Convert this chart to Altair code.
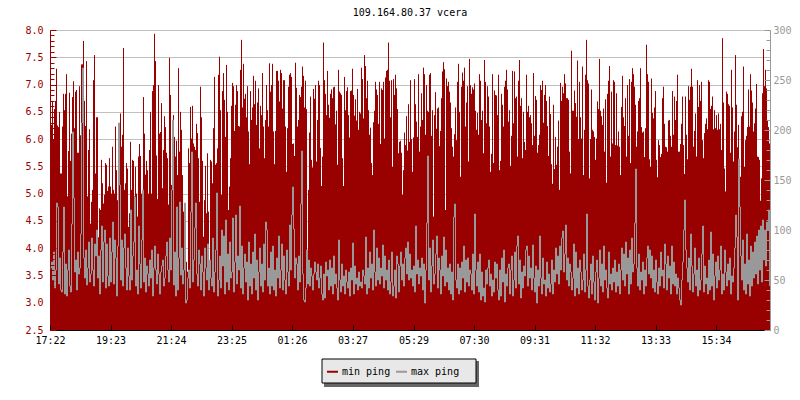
import altair as alt
import pandas as pd

TITLE = "109.164.80.37 vcera"
SERIES = ["min ping", "max ping"]
TICK_MINUTES = [0, 121, 242, 363, 484, 605, 727, 848, 969, 1090, 1211, 1332]
TICK_LABELS = ["17:22", "19:23", "21:24", "23:25", "01:26", "03:27", "05:29", "07:30", "09:31", "11:32", "13:33", "15:34"]
LEFT_MAJOR = [2.5, 3.0, 3.5, 4.0, 4.5, 5.0, 5.5, 6.0, 6.5, 7.0, 7.5, 8.0]
LEFT_MINOR = [round(2.5 + i * 0.1, 1) for i in range(56)]
RIGHT_MAJOR = [0, 50, 100, 150, 200, 250, 300]
RIGHT_MINOR = list(range(0, 301, 10))

min1 = [6.62,6.26,6.70,6.00,6.55,6.70,7.29,6.25,6.22,6.50,5.37,5.37,6.23,6.83,6.53,6.83,7.19,4.95,5.78,6.85,5.60,6.10,6.77,7.06,6.20,6.87,6.90,5.75,5.75,6.97,6.07,7.37,7.37,7.80,6.70,6.24,7.43,4.95,5.80,6.18,4.45,4.85,5.07,7.08,7.54,5.37,6.40,6.40,4.20,4.73,4.70,5.62,5.19,4.82,4.98,5.56,5.53,5.05,5.13,5.65,5.13,5.00,5.86,5.07,5.00,6.23,5.43,4.88,5.19,5.19,6.47,5.86,6.08,7.67,5.07,5.19,5.56,5.46,4.39,4.64,5.95,5.07,5.62,5.60,4.95,5.49,5.00,4.58,5.68,5.91,5.69,5.00,4.95,6.77,6.10,5.35,5.60,5.43,5.00,5.80,6.50,5.00,6.88,6.99,7.93,7.43,5.70,4.90,6.99,6.10,6.13,6.66,5.10,5.80,6.42,6.22,5.75,5.65,4.80,7.49]
min2 = [6.81,5.16,5.16,6.44,6.04,5.68,5.97,5.34,7.30,5.77,6.50,6.17,5.34,4.67,4.21,3.57,3.75,3.57,5.83,5.56,6.59,6.01,6.61,5.92,5.86,5.80,6.28,6.11,5.65,4.85,6.96,6.40,5.60,4.21,4.88,5.51,4.64,5.74,4.67,3.78,5.62,5.59,5.19,6.20,7.14,5.53,5.56,5.83,7.18,7.51,6.53,4.98,6.88,7.21,6.72,6.04,7.36,6.50,4.70,5.13,5.65,6.61,7.03,6.97,6.15,6.63,6.99,6.88,6.24,6.23,7.27,7.82,6.58,7.38,6.74,6.83,6.40,6.97,6.14,5.54,6.88,6.35,6.58,7.16,6.64,7.07,6.26,6.67,6.93,5.83,6.61,6.44,7.21,6.23,5.65,6.35,6.99,6.53,6.23,7.39,6.87,6.99,7.38,6.14,5.54,6.15,7.25,7.25,7.07,6.69,7.27,7.21,6.56,7.08,7.08,6.23,5.40,6.20,6.96,7.18]
min3 = [7.21,7.14,5.91,5.92,5.69,7.40,6.94,6.23,6.35,6.81,6.77,6.96,7.33,7.16,6.58,7.07,6.55,3.94,5.07,6.12,6.78,5.62,5.48,6.92,6.74,6.99,5.59,6.35,7.07,6.99,5.84,5.14,5.68,7.77,7.08,6.83,6.44,7.25,6.63,6.39,6.83,6.91,6.75,6.95,6.96,6.27,6.52,5.53,7.27,6.87,6.84,6.81,5.65,5.14,7.14,6.53,6.88,6.95,6.44,6.03,6.88,6.89,7.29,6.81,6.43,6.73,6.34,6.92,6.17,6.50,6.47,7.31,7.10,6.38,7.54,7.34,6.75,7.07,6.53,6.08,6.21,5.56,5.34,6.31,6.52,7.05,6.91,6.81,6.28,7.05,5.91,6.93,6.90,7.05,6.01,7.13,7.25,7.27,7.77,7.07,6.40,7.08,5.49,7.10,6.81,7.18,6.93,6.55,5.74,5.95,5.97,5.75,4.98,5.43,6.12,5.89,6.42,5.79,6.64,5.95]
min4 = [7.08,6.00,5.40,6.03,7.10,6.64,6.32,6.04,7.19,5.77,6.23,6.84,6.35,7.31,7.19,6.08,6.99,6.52,6.50,7.18,7.21,6.06,6.53,4.58,6.44,6.86,6.19,6.56,6.58,5.87,6.15,6.75,7.24,7.41,7.28,4.70,7.11,6.97,7.05,6.87,6.67,6.20,5.86,5.68,6.09,6.58,5.98,7.05,7.38,6.50,5.31,6.96,7.22,7.07,7.31,6.23,6.67,6.97,5.59,7.47,6.99,6.83,6.95,6.91,7.02,6.52,6.17,6.48,6.08,7.19,7.07,6.35,6.52,5.74,7.45,7.05,6.29,6.97,6.78,6.23,5.40,5.73,7.19,5.56,6.89,6.81,6.80,6.44,7.18,5.43,5.60,6.83,6.63,6.23,6.96,7.07,7.27,6.91,6.32,6.53,5.51,6.06,7.25,6.29,7.24,6.75,6.78,5.68,7.07,7.45,6.61,6.75,5.65,6.50,5.95,5.80,7.18,6.50,6.61,6.40]
min5 = [6.44,6.29,5.89,7.21,6.06,6.79,6.72,5.75,5.89,6.08,6.99,6.90,7.07,6.30,6.81,6.99,6.70,6.24,5.69,6.78,6.46,5.54,5.18,6.63,5.45,6.04,5.53,5.86,6.34,5.07,7.03,6.70,6.96,6.84,7.19,7.02,6.75,6.75,6.72,5.77,5.37,7.62,6.52,6.52,6.89,6.66,6.41,7.44,6.00,7.05,6.40,6.01,7.33,5.34,6.17,7.18,7.82,7.08,7.02,5.28,6.00,6.91,6.17,6.14,6.04,5.62,6.01,6.69,6.55,7.47,6.52,6.42,6.26,6.56,5.77,6.73,5.20,6.83,7.07,7.34,5.68,6.87,5.92,7.08,7.05,5.89,6.84,5.88,6.14,5.86,5.34,6.59,7.16,6.40,6.24,6.75,5.68,6.99,6.06,7.10,5.56,7.05,7.30,7.19,6.96,6.63,5.86,6.14,6.70,6.75,7.30,6.22,6.12,6.14,5.67,6.20,7.73,7.19,7.05,5.63]
min6 = [5.49,7.11,6.48,6.38,6.58,6.88,5.62,5.30,5.98,5.89,5.67,5.73,6.75,6.96,6.28,5.86,5.85,5.77,6.34,6.35,6.06,5.86,6.88,6.08,6.78,6.35,6.70,7.18,5.77,5.77,5.91,6.28,6.78,5.89,5.36,6.78,6.08,5.63,6.97,6.72,6.96,7.29,6.96,5.86,6.15,6.47,5.68,7.08,6.59,6.99,6.70,7.05,5.98,5.65,6.11,6.28,6.38,6.18,7.08,7.05,6.55,6.61,6.78,6.18,6.53,6.20,6.44,6.17,6.47,6.18,6.28,5.80,7.85,6.67,5.46,5.04,6.87,6.83,6.64,6.61,5.75,7.27,6.58,5.59,6.14,7.54,6.63,5.85,6.26,5.43,5.31,6.42,6.50,7.33,5.49,5.98,6.06,6.22,6.91,6.23,7.19,6.89,6.67,6.14,6.29,6.56,7.01,5.68,5.67,5.62,4.87,5.28,6.84,7.65,6.97,7.27,6.93,6.35,6.22,5.92]

max1 = [62,68,50,78,42,60,127,123,46,72,40,38,78,123,36,66,34,60,80,44,38,106,198,132,58,70,40,78,56,62,96,207,262,72,52,80,45,62,88,48,56,92,60,44,86,74,100,52,74,36,80,104,48,88,100,42,86,54,44,92,48,78,108,46,90,72,34,84,207,145,50,90,44,82,96,62,40,82,54,40,120,50,74,88,133,44,60,36,104,66,42,90,140,48,72,38,64,56,44,70,52,80,34,62,84,60,46,76,56,36,58,64,70,44,52,74,88,60,48,92]
max2 = [60,140,210,45,78,34,123,40,72,128,55,82,46,60,127,27,30,52,60,42,118,178,48,70,102,127,56,44,80,66,40,74,58,34,82,62,50,86,40,70,52,44,92,38,58,80,137,34,50,74,42,100,64,94,36,110,48,76,40,88,52,58,112,38,68,115,46,74,60,124,42,84,36,62,76,48,68,30,88,44,66,36,78,52,96,40,70,30,58,82,44,66,38,86,50,108,100,44,62,36,78,44,84,40,60,34,72,52,94,42,60,86,40,74,50,36,80,58,44,105]
max3 = [60,115,143,101,52,72,66,40,74,48,126,179,56,30,28,42,80,46,70,44,62,54,40,56,68,58,50,66,42,52,64,36,30,56,32,68,54,60,40,70,44,62,36,74,46,56,42,30,90,50,38,66,44,54,36,60,48,42,58,34,62,50,87,36,64,46,52,40,58,44,48,42,60,54,46,93,36,62,42,78,52,66,40,100,58,44,82,50,72,46,62,54,85,42,74,50,60,40,70,36,48,78,34,44,60,32,74,66,38,64,78,50,66,44,72,82,56,88,50,76]
max4 = [52,60,44,64,38,104,56,70,46,62,54,72,40,66,27,60,107,174,50,82,38,64,90,46,56,76,94,42,72,60,36,74,54,93,44,80,48,62,40,66,36,58,30,113,126,50,42,66,36,62,40,68,52,84,38,70,48,72,44,60,56,40,76,36,116,60,44,68,38,76,30,58,34,42,28,60,46,62,70,44,56,34,50,38,68,52,66,40,30,60,34,72,48,80,28,56,44,62,66,36,60,74,34,50,78,42,84,94,46,70,32,58,42,64,54,80,84,44,74,52]
max5 = [62,40,85,52,38,64,27,60,44,94,52,36,72,46,50,34,68,42,56,38,46,70,36,60,48,82,56,74,46,84,60,92,99,58,76,105,50,72,44,66,58,40,52,86,34,78,42,62,36,70,58,40,50,76,38,60,116,44,32,50,66,36,74,48,30,58,70,27,52,80,44,66,38,84,50,60,42,32,78,46,56,40,62,48,70,38,58,44,66,36,60,82,50,76,44,88,56,72,36,80,46,92,58,66,107,161,62,44,76,40,58,50,68,36,60,44,72,84,56,80]
max6 = [52,74,42,60,38,70,48,36,62,44,78,54,60,42,86,66,40,74,52,64,36,84,46,68,44,56,36,52,42,30,25,50,68,100,130,80,62,48,72,40,96,64,38,56,82,44,60,34,72,40,50,76,104,38,64,46,52,36,70,40,98,44,76,30,54,68,42,74,50,60,84,36,56,40,80,58,44,66,50,72,36,54,48,62,82,115,93,30,171,123,74,50,90,40,66,36,96,46,70,34,84,44,78,52,88,56,94,46,100,60,104,48,110,70,100,64,108,100,120,44]

RED = "#990000"
GRAY = "#999999"
FONT = "DejaVu Sans Mono"
BLOCK = 120


def series_frame(blocks, name):
    rows = []
    for b, block in enumerate(blocks):
        for i, v in enumerate(block[:BLOCK]):
            rows.append({"t": (b * BLOCK + i) * 2 + 1, "v": v, "series": name})
    return pd.DataFrame(rows)


df_min = series_frame([min1, min2, min3, min4, min5, min6], SERIES[0])
df_max = series_frame([max1, max2, max3, max4, max5, max6], SERIES[1])

label_map = "{" + ",".join(f"'{m}':'{l}'" for m, l in zip(TICK_MINUTES, TICK_LABELS)) + "}"
x_scale = alt.Scale(domain=[0, 1440], nice=False, zero=False)
left_scale = alt.Scale(domain=[2.5, 8.0], nice=False, zero=False)
right_scale = alt.Scale(domain=[0, 300], nice=False, zero=False)
color_scale = alt.Scale(domain=SERIES, range=[RED, GRAY])

x_main = alt.X("t:Q", scale=x_scale, title=None, axis=alt.Axis(
    values=TICK_MINUTES, labelExpr=f"{label_map}[datum.value]", grid=False, tickSize=0,
    domainColor="black", labelColor="black", labelFont=FONT, labelFontSize=10,
    labelPadding=5, labelFlush=False, labelOverlap=False, labelBound=False, orient="bottom"))
x_none = alt.X("t:Q", scale=x_scale, title=None, axis=None)

legend = alt.Legend(
    title=None, orient="none", legendX=271, legendY=330, direction="horizontal", columns=2,
    padding=5, symbolType="stroke", symbolSize=120,
    symbolStrokeWidth=2, labelFont=FONT, labelFontSize=10, labelColor="black", columnPadding=1,
    labelOffset=3, rowPadding=0)

shadow = alt.Chart(df_min.head(1)).mark_rect(color="#666666").encode(
    x=alt.value(274), x2=alt.value(429), y=alt.value(331), y2=alt.value(357))
box = alt.Chart(df_min.head(1)).mark_rect(fill="#e8e8e8", stroke="black", strokeWidth=1).encode(
    x=alt.value(272), x2=alt.value(426), y=alt.value(329), y2=alt.value(353))

bars = alt.Chart(df_min).mark_rule(strokeWidth=1).encode(
    x=x_main,
    y=alt.Y("v:Q", scale=left_scale, title=None, axis=alt.Axis(
        values=LEFT_MAJOR, format=".1f", grid=True, gridColor="#c0c0c0", gridOpacity=1, tickSize=0,
        domainColor=RED, labelColor=RED, labelFont=FONT, labelFontSize=10, labelPadding=7,
        labelFlush=False, labelOverlap=False, labelBound=False, orient="left")),
    y2=alt.datum(2.5),
    color=alt.Color("series:N", scale=color_scale, legend=legend),
)

line = alt.Chart(df_max).mark_line(strokeWidth=1, interpolate="step-after").encode(
    x=x_none,
    y=alt.Y("v:Q", scale=right_scale, title=None, axis=alt.Axis(
        values=RIGHT_MAJOR, format="d", grid=False, tickSize=0, domainColor=GRAY, labelColor=GRAY,
        labelFont=FONT, labelFontSize=10, labelPadding=3, labelFlush=False, labelOverlap=False,
        labelBound=False, orient="right")),
    color=alt.Color("series:N", scale=color_scale, legend=legend),
)


def tick_layer(scale, values, size, colour, orient):
    return alt.Chart(df_min.head(1)).mark_point(opacity=0).encode(
        x=x_none,
        y=alt.Y("v:Q", scale=scale, title=None, axis=alt.Axis(
            values=values, orient=orient, offset=-720, labels=False, domain=False, grid=False,
            tickSize=size, tickColor=colour, zindex=1)),
    )


left_major = tick_layer(left_scale, LEFT_MAJOR, 6, RED, "right")
left_minor = tick_layer(left_scale, LEFT_MINOR, 4, RED, "right")
right_major = tick_layer(right_scale, RIGHT_MAJOR, 6, GRAY, "left")
right_minor = tick_layer(right_scale, RIGHT_MINOR, 4, GRAY, "left")

x_ticks = alt.Chart(df_min.head(1)).mark_point(opacity=0).encode(
    x=alt.X("t:Q", scale=x_scale, title=None, axis=alt.Axis(
        values=TICK_MINUTES, orient="top", offset=-300, labels=False, domain=False, grid=False,
        tickSize=5, tickColor="black", zindex=1)),
    y=alt.Y("v:Q", scale=left_scale, title=None, axis=None),
)

chart = (
    alt.layer(shadow, box, bars, line, left_major, left_minor, right_major, right_minor, x_ticks)
    .resolve_scale(y="independent")
    .resolve_axis(x="independent", y="independent")
    .properties(
        width=720,
        height=300,
        autosize=alt.AutoSizeParams(type="none"),
        padding={"left": 42, "top": 22, "right": 22, "bottom": 62},
        background="white",
        title=alt.TitleParams(TITLE, font=FONT, fontSize=10, fontWeight="normal", color="black",
                              anchor="middle", offset=7),
    )
    .configure_view(stroke=None)
)

chart.save("out.html", embed_options={"renderer": "svg", "actions": False})
